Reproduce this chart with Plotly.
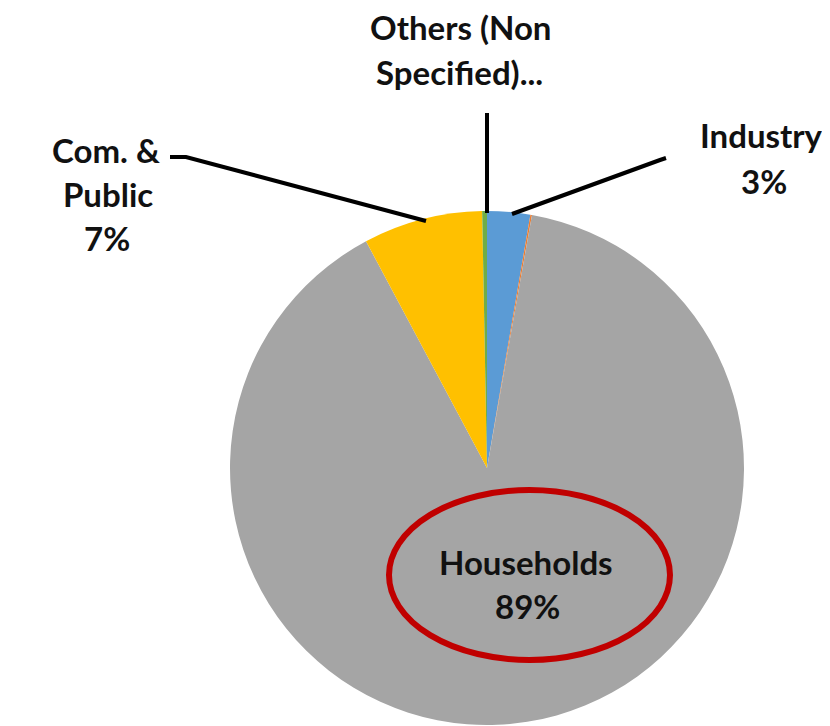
import plotly.graph_objects as go

# Data
categories = ["Industry", "Transport", "Households", "Com. & Public", "Others (Non Specified)"]
values = [2.7, 0.1, 89.4, 7.5, 0.3]
colors = ["#5B9BD5", "#ED7D31", "#A5A5A5", "#FFC000", "#70AD47"]

# The page body has an 8px margin; the figure is sized to fill the rest of the window
OFF = 8
W, H = 830 - OFF, 726 - OFF
cx, cy, r = 487, 468, 257

def px(x):
    return (x - OFF) / W

def py(y):
    return 1 - (y - OFF) / H

fig = go.Figure(go.Pie(
    labels=categories,
    values=values,
    marker=dict(colors=colors, line=dict(width=0)),
    sort=False,
    direction="clockwise",
    rotation=0,
    textinfo="none",
    hoverinfo="label+percent",
    showlegend=False,
    domain=dict(x=[max(0, px(cx - r)), min(1, px(cx + r))],
                y=[max(0, py(cy + r)), min(1, py(cy - r))]),
))

font = dict(family="Lato", size=33, color="#111111")
label_lines = [
    ("<b>Others (Non</b>", 460, 27),
    ("<b>Specified)...</b>", 459, 72),
    ("<b>Com. &amp;</b>", 106, 150),
    ("<b>Public</b>", 108, 194),
    ("<b>7%</b>", 107, 238),
    ("<b>Industry</b>", 761, 135),
    ("<b>3%</b>", 764, 181),
    ("<b>Households</b>", 526, 562),
    ("<b>89%</b>", 527, 606),
]
annotations = [
    dict(text=t, x=px(x), y=py(y), xref="paper", yref="paper",
         xanchor="center", yanchor="middle", showarrow=False, font=font)
    for t, x, y in label_lines
]

line_style = dict(color="black", width=4)
shapes = [
    dict(type="path", xref="paper", yref="paper",
         path=f"M {px(487)} {py(113)} L {px(487)} {py(213)}", line=line_style),
    dict(type="path", xref="paper", yref="paper",
         path=f"M {px(512)} {py(214)} L {px(660)} {py(160)} L {px(666)} {py(158)}", line=line_style),
    dict(type="path", xref="paper", yref="paper",
         path=f"M {px(170)} {py(157)} L {px(186)} {py(157)} L {px(426)} {py(221)}", line=line_style),
    dict(type="circle", xref="paper", yref="paper",
         x0=px(389), x1=px(670), y0=py(660), y1=py(490),
         line=dict(color="#C00000", width=6)),
]

fig.update_layout(
    width=W, height=H,
    margin=dict(l=0, r=0, t=0, b=0),
    paper_bgcolor="white",
    plot_bgcolor="white",
    annotations=annotations,
    shapes=shapes,
)

fig.write_html("out.html")
